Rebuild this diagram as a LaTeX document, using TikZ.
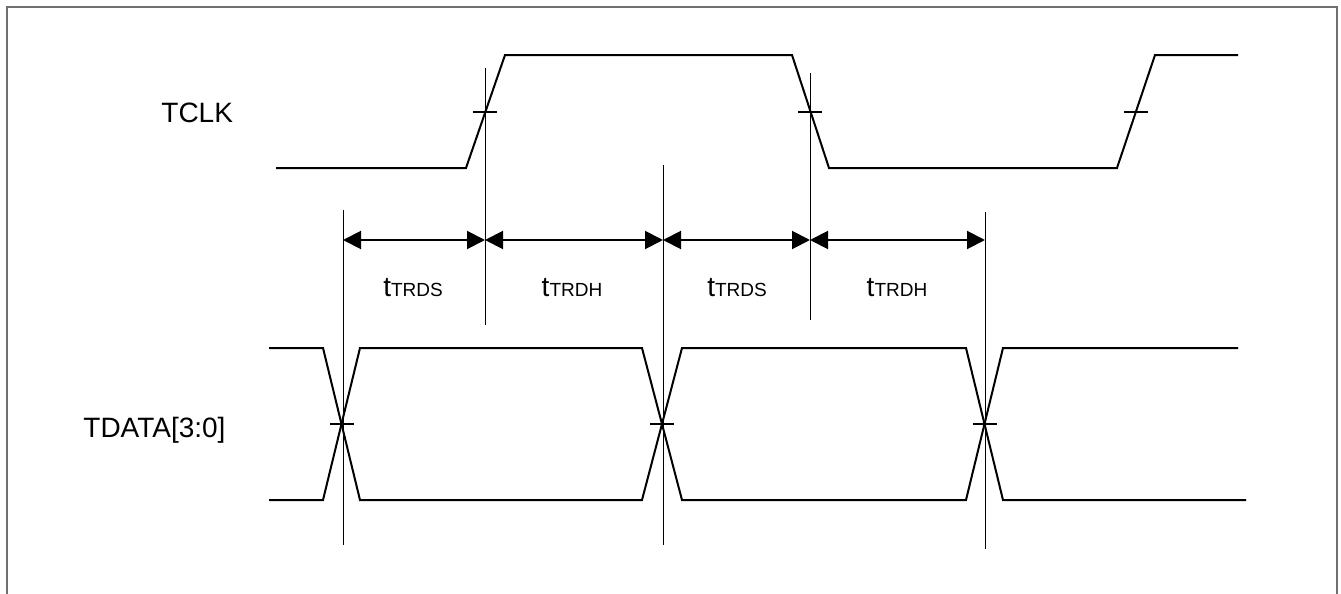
\documentclass[tikz,border=0pt]{standalone}
\usepackage{fontspec}
\setmainfont{Liberation Sans}
\usepackage{xcolor}
\usetikzlibrary{arrows.meta}
\definecolor{FrameGray}{HTML}{707070}

\begin{document}
\begin{tikzpicture}[x=0.5pt,y=-0.5pt,
  sig/.style={line width=1pt,line join=miter},
  tickmark/.style={line width=1pt},
  ref/.style={line width=0.5pt},
  dim/.style={{Triangle[length=9pt,width=9pt]}-{Triangle[length=9pt,width=9pt]},
    line width=1pt},
  signame/.style={font=\fontsize{14}{16}\selectfont,inner sep=0pt,anchor=base west},
  lab/.style={font=\fontsize{14}{16}\selectfont,inner sep=0pt,anchor=base}]
  \useasboundingbox (0,0) rectangle (1341,594);
  \draw[FrameGray,line width=0.85pt] (7,594) -- (7,7) -- (1337,7) -- (1337,594);
  % 信号名
  \node[signame] (nclk)  at (161,122) {TCLK};
  \node[signame] (ndata) at (83,437)  {TDATA[3:0]};
  % TCLK 波形
  \draw[sig] (276,168) -- (466,168) -- (505,55) -- (792,55) -- (829,168)
    -- (1117,168) -- (1155,55) -- (1238,55);
  \draw[tickmark] (473,112) -- (497,112);
  \draw[tickmark] (798,112) -- (822,112);
  \draw[tickmark] (1124,112) -- (1148,112);
  % TDATA 波形
  \draw[sig] (269,348) -- (323,348) -- (360,500) -- (642,500) -- (682,348)
    -- (966,348) -- (1003,500) -- (1246,500);
  \draw[sig] (269,500) -- (323,500) -- (360,348) -- (642,348) -- (682,500)
    -- (966,500) -- (1003,348) -- (1238,348);
  \draw[tickmark] (330,424) -- (354,424);
  \draw[tickmark] (650,424) -- (674,424);
  \draw[tickmark] (973,424) -- (997,424);
  % 参考线
  \coordinate (s1) at (343,240);
  \coordinate (c1) at (485,240);
  \coordinate (s2) at (663,240);
  \coordinate (c2) at (810,240);
  \coordinate (s3) at (985,240);
  \draw[ref] (343,210) -- (343,545);
  \draw[ref] (485,68)  -- (485,325);
  \draw[ref] (663,165) -- (663,545);
  \draw[ref] (810,73)  -- (810,320);
  \draw[ref] (985,212) -- (985,549);
  % 时序标注
  \draw[dim] (s1) -- (c1);
  \draw[dim] (c1) -- (s2);
  \draw[dim] (s2) -- (c2);
  \draw[dim] (c2) -- (s3);
  \node[lab] (ts1) at (413,296) {t{\fontsize{9.5}{10}\selectfont TRDS}};
  \node[lab] (th1) at (572,296) {t{\fontsize{9.5}{10}\selectfont TRDH}};
  \node[lab] (ts2) at (737,296) {t{\fontsize{9.5}{10}\selectfont TRDS}};
  \node[lab] (th2) at (897,296) {t{\fontsize{9.5}{10}\selectfont TRDH}};
\end{tikzpicture}
\end{document}
